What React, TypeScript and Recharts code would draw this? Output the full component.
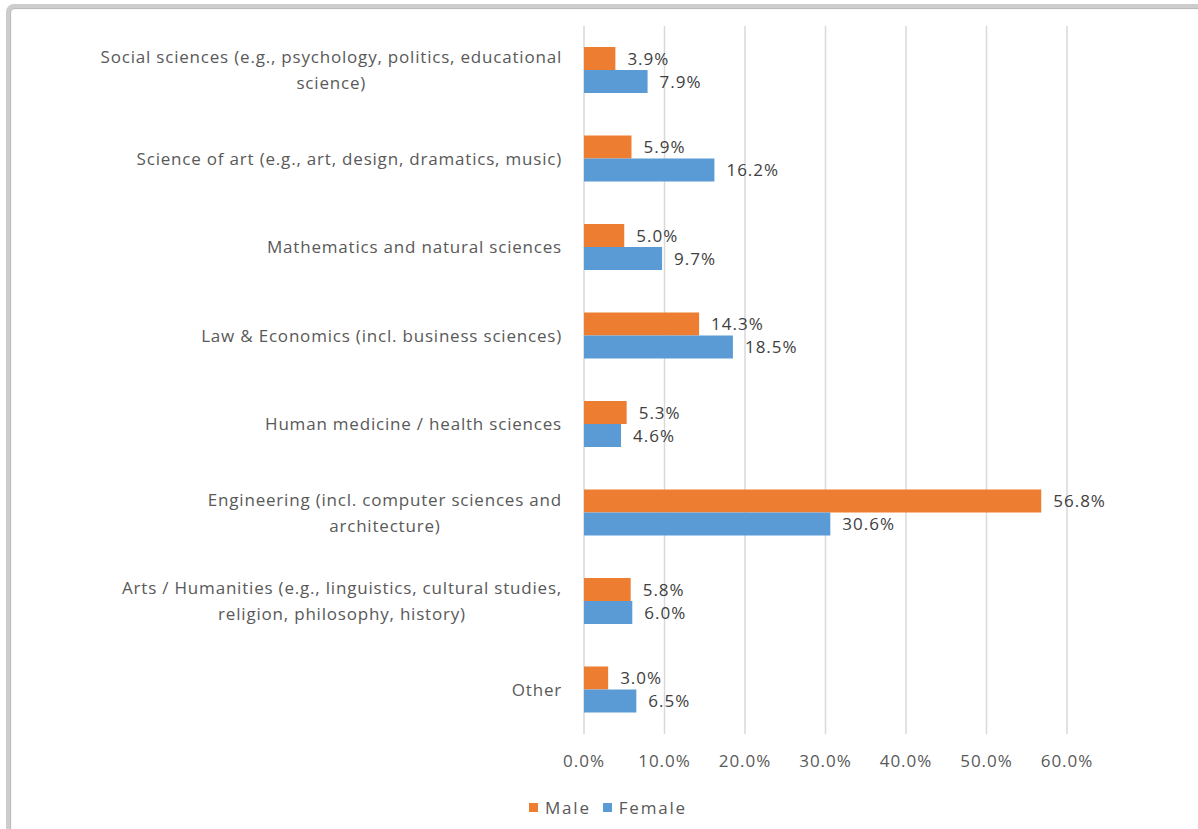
import React from 'react';
import { BarChart, Bar, XAxis, YAxis, CartesianGrid, LabelList } from 'recharts';

const categories = [
  ['Social sciences (e.g., psychology, politics, educational', 'science)'],
  ['Science of art (e.g., art, design, dramatics, music)'],
  ['Mathematics and natural sciences'],
  ['Law & Economics (incl. business sciences)'],
  ['Human medicine / health sciences'],
  ['Engineering (incl. computer sciences and', 'architecture)'],
  ['Arts / Humanities (e.g., linguistics, cultural studies,', 'religion, philosophy, history)'],
  ['Other'],
];
const male = [3.9, 5.9, 5.0, 14.3, 5.3, 56.8, 5.8, 3.0];
const female = [7.9, 16.2, 9.7, 18.5, 4.6, 30.6, 6.0, 6.5];
const xTicks = [0, 10, 20, 30, 40, 50, 60];

const MALE = '#ED7D31';
const FEMALE = '#5B9BD5';
const TEXT = '#595959';
const FONT = '"Open Sans", sans-serif';
const FS = 17;
const CAT_LS = 0.8;
const NUM_LS = 1;

const data = categories.map((lines, i) => ({
  name: lines.join(' '),
  lines,
  Male: male[i],
  Female: female[i],
}));

let ctx: CanvasRenderingContext2D | null = null;
const measure = (s: string) => {
  if (!ctx) ctx = document.createElement('canvas').getContext('2d');
  if (!ctx) return s.length * 9;
  ctx.font = `${FS}px ${FONT}`;
  return ctx.measureText(s).width + s.length * CAT_LS;
};

const CategoryTick = ({ x, y, payload }: any) => {
  const row = data.find((d) => d.name === payload.value);
  const lines = row ? row.lines : [payload.value];
  const w = Math.max(...lines.map(measure));
  const cx = x - w / 2;
  const lh = 26;
  const top = y - ((lines.length - 1) * lh) / 2;
  return (
    <text textAnchor="middle" fill={TEXT} fontSize={FS} fontFamily={FONT} letterSpacing={CAT_LS}>
      {lines.map((l: string, i: number) => (
        <tspan key={i} x={cx} y={top + i * lh} dy="0.35em">{l}</tspan>
      ))}
    </text>
  );
};

const pct = (v: any) => `${Number(v).toFixed(1)}%`;

export default function App() {
  return (
    <div style={{ position: 'absolute', left: 0, top: 0, width: 1198, height: 829, overflow: 'hidden', background: '#fff' }}>
      <div style={{ position: 'absolute', left: 6, top: 4, width: 1210, height: 850, border: '4px solid #cdcdcd', borderRadius: 8, boxShadow: 'inset 1px 1px 1px #b5b5b5' }} />
      <div style={{ position: 'absolute', left: 0, top: 0 }}>
        <BarChart
          width={1198}
          height={829}
          data={data}
          layout="vertical"
          margin={{ top: 26, right: 131, bottom: 65, left: 0 }}
          barCategoryGap={21}
          barGap={0}
        >
          <CartesianGrid horizontal={false} stroke="#d9d9d9" strokeWidth={1.5} />
          <XAxis
            type="number"
            domain={[0, 60]}
            ticks={xTicks}
            tickFormatter={pct}
            axisLine={false}
            tickLine={false}
            tickSize={0}
            tickMargin={21}
            height={30}
            tick={{ fill: TEXT, fontSize: FS, fontFamily: FONT, letterSpacing: NUM_LS }}
          />
          <YAxis
            type="category"
            dataKey="name"
            width={584}
            axisLine={false}
            tickLine={false}
            tickSize={0}
            tickMargin={22}
            interval={0}
            tick={<CategoryTick />}
          />
          <Bar dataKey="Male" fill={MALE} isAnimationActive={false}>
            <LabelList dataKey="Male" position="right" offset={12} formatter={pct} fill="#404040" fontSize={FS} fontFamily={FONT} letterSpacing={NUM_LS} />
          </Bar>
          <Bar dataKey="Female" fill={FEMALE} isAnimationActive={false}>
            <LabelList dataKey="Female" position="right" offset={12} formatter={pct} fill="#404040" fontSize={FS} fontFamily={FONT} letterSpacing={NUM_LS} />
          </Bar>
        </BarChart>
      </div>
      <div style={{ position: 'absolute', left: 529, top: 796, display: 'flex', alignItems: 'center', fontFamily: FONT, fontSize: 17, letterSpacing: 1.8, color: TEXT }}>
        <span style={{ width: 9, height: 9, background: MALE, marginRight: 7 }} />
        <span style={{ marginRight: 12 }}>Male</span>
        <span style={{ width: 9, height: 9, background: FEMALE, marginRight: 7 }} />
        <span>Female</span>
      </div>
    </div>
  );
}
